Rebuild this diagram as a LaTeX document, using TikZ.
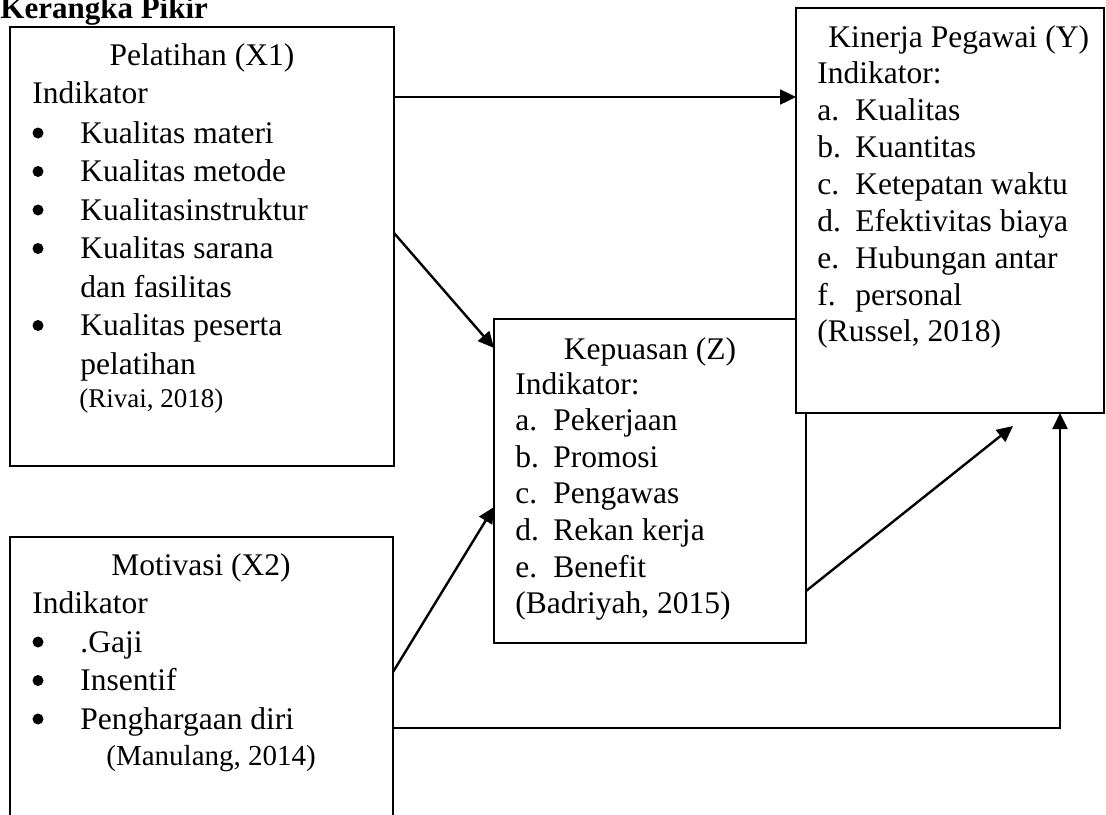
\documentclass[tikz,border=0pt]{standalone}
\usepackage{fontspec}
\setmainfont{Liberation Serif}
\usetikzlibrary{arrows.meta}
\begin{document}
\begin{tikzpicture}[x=0.5pt,y=-0.5pt,
  box/.style={draw,line width=1.1pt,anchor=north west,inner sep=0pt,outer sep=0pt,fill=white},
  txt/.style={anchor=base west,inner sep=0pt,font=\fontsize{15.75}{18}\selectfont},
  sm/.style={txt,font=\fontsize{13.5}{16}\selectfont},
  smb/.style={txt,font=\fontsize{14.5}{17}\selectfont},
  ttl/.style={txt,font=\fontsize{15.5}{18}\selectfont\bfseries},
  bul/.style={circle,fill=black,inner sep=0pt,minimum size=5.5pt},
  arr/.style={line width=1.2pt,-{Triangle[length=8pt,width=7.5pt]}},
  ln/.style={line width=1.2pt}]
\clip (0,0) rectangle (1106,814);
\fill[white] (0,0) rectangle (1106,814);

% title
\node[ttl] (title) at (0,18) {Kerangka Pikir};

% boxes
\node[box,minimum width=156pt,minimum height=162pt] (kz) at (494,319) {};
\node[box,minimum width=154pt,minimum height=202.5pt] (ky) at (796,8) {};
\node[box,minimum width=192pt,minimum height=219.5pt] (x1) at (10,27) {};
\node[box,minimum width=191.5pt,minimum height=150pt] (x2) at (10,537) {};

% X1 text
\node[txt,anchor=base] (x1h) at (202,65) {Pelatihan (X1)};
\node[txt] (x1i) at (32,103) {Indikator};
\node[bul] (x1b1) at (38,133) {};
\node[txt] (x1t1) at (80,143) {Kualitas materi};
\node[bul] (x1b2) at (38,171.5) {};
\node[txt] (x1t2) at (80,181.5) {Kualitas metode};
\node[bul] (x1b3) at (38,210) {};
\node[txt] (x1t3) at (80,220) {Kualitasinstruktur};
\node[bul] (x1b4) at (38,248.5) {};
\node[txt] (x1t4) at (80,258.5) {Kualitas sarana};
\node[txt] (x1t5) at (80,297) {dan fasilitas};
\node[bul] (x1b6) at (38,325.5) {};
\node[txt] (x1t6) at (80,335.5) {Kualitas peserta};
\node[txt] (x1t7) at (80,374) {pelatihan};
\node[sm] (x1s) at (79,407) {(Rivai, 2018)};

% X2 text
\node[txt,anchor=base] (x2h) at (201,575) {Motivasi (X2)};
\node[txt] (x2i) at (32,613) {Indikator};
\node[bul] (x2b1) at (38,642) {};
\node[txt] (x2t1) at (80,652) {.Gaji};
\node[bul] (x2b2) at (38,680.5) {};
\node[txt] (x2t2) at (80,690.5) {Insentif};
\node[bul] (x2b3) at (38,719) {};
\node[txt] (x2t3) at (80,729) {Penghargaan diri};
\node[smb] (x2s) at (106,765) {(Manulang, 2014)};

% Z text
\node[txt,anchor=base] (kzh) at (650,359) {Kepuasan (Z)};
\node[txt] (kzi) at (515,394) {Indikator:};
\node[txt] (kza) at (515,430) {a.};  \node[txt] (kzat) at (553,430) {Pekerjaan};
\node[txt] (kzb) at (515,467) {b.};  \node[txt] (kzbt) at (553,467) {Promosi};
\node[txt] (kzc) at (515,503) {c.};  \node[txt] (kzct) at (553,503) {Pengawas};
\node[txt] (kzd) at (515,540) {d.};  \node[txt] (kzdt) at (553,540) {Rekan kerja};
\node[txt] (kze) at (515,577) {e.};  \node[txt] (kzet) at (553,577) {Benefit};
\node[txt] (kzs) at (515,613) {(Badriyah, 2015)};

% Y text
\node[txt] (kyh) at (828,47) {Kinerja Pegawai (Y)};
\node[txt] (kyi) at (817,83) {Indikator:};
\node[txt] (kya) at (817,120) {a.};  \node[txt] (kyat) at (855,120) {Kualitas};
\node[txt] (kyb) at (817,157) {b.};  \node[txt] (kybt) at (855,157) {Kuantitas};
\node[txt] (kyc) at (817,194) {c.};  \node[txt] (kyct) at (855,194) {Ketepatan waktu};
\node[txt] (kyd) at (817,231) {d.};  \node[txt] (kydt) at (855,231) {Efektivitas biaya};
\node[txt] (kye) at (817,268) {e.};  \node[txt] (kyet) at (855,268) {Hubungan antar};
\node[txt] (kyf) at (817,305) {f.};  \node[txt] (kyft) at (855,305) {personal};
\node[txt] (kys) at (817,341) {(Russel, 2018)};

% helper coordinates
\coordinate (r1) at (0,97);
\coordinate (r2) at (0,233);
\coordinate (r3) at (0,348);
\coordinate (r4) at (0,672);
\coordinate (r5) at (0,507);
\coordinate (r6) at (0,591);
\coordinate (r7) at (0,728);
\coordinate (c7) at (1060,0);
\coordinate (zy) at (1013,426);

% connectors
\draw[arr] (x1.east |- r1) -- (ky.west |- r1);
\draw[arr] (x1.east |- r2) -- (kz.west |- r3);
\draw[arr] (x2.east |- r4) -- (kz.west |- r5);
\draw[arr] (kz.east |- r6) -- (zy);
\draw[arr] (x2.east |- r7) -| (ky.south -| c7);
\end{tikzpicture}
\end{document}
